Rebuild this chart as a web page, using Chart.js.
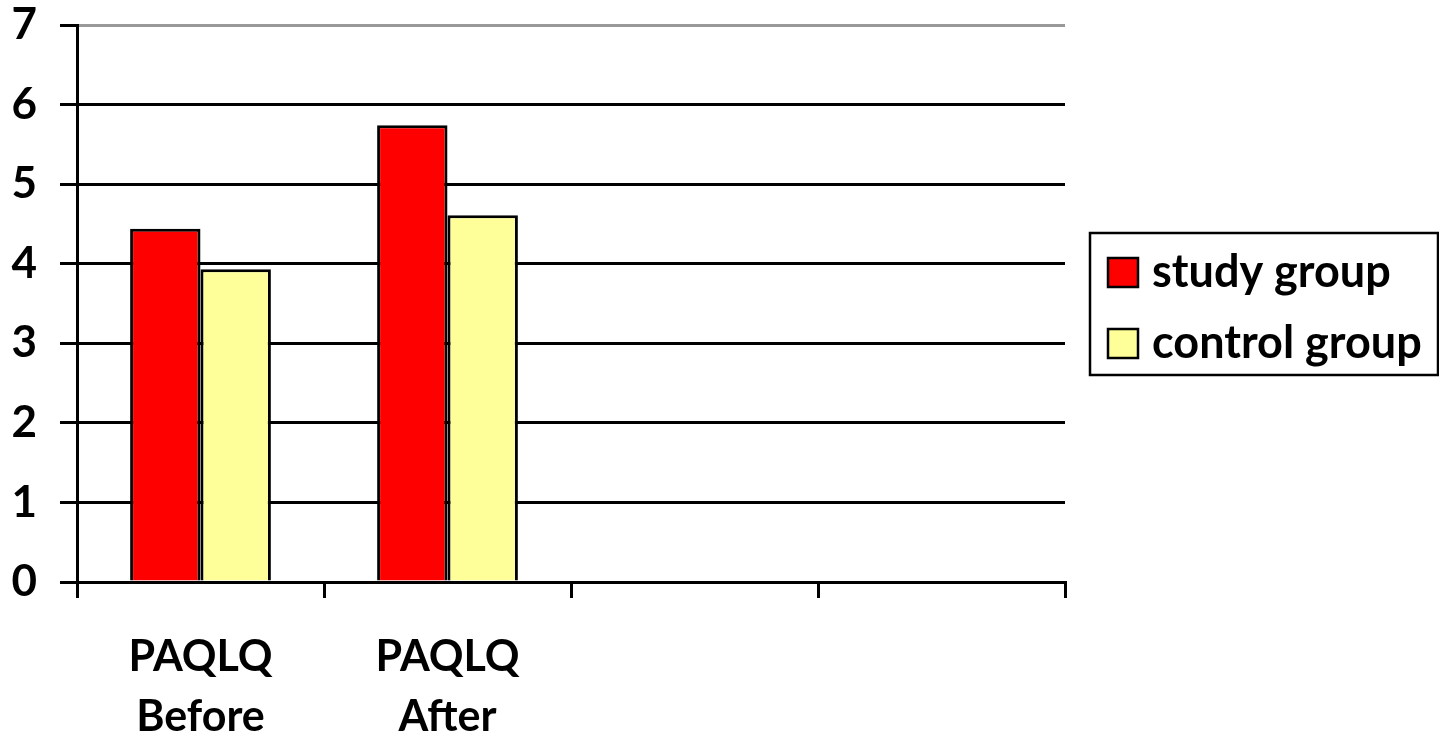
<!DOCTYPE html>
<html>
<head>
<meta charset="utf-8">
<script src="https://cdn.jsdelivr.net/npm/chart.js@4.4.1/dist/chart.umd.min.js"></script>
<style>
  html, body { margin: 0; padding: 0; background: #fff; }
  #wrap { width: 1439px; height: 738px; }
</style>
</head>
<body>
<div id="wrap"><canvas id="chart" width="1439" height="738"></canvas></div>
<script>
const categories = [['PAQLQ', 'Before'], ['PAQLQ', 'After'], '', '']
const studyGroup = [4.44, 5.74, null, null]
const controlGroup = [3.93, 4.61, null, null]
const yTicks = [0, 1, 2, 3, 4, 5, 6, 7]

const FONT = 'Lato, "Open Sans", sans-serif'

// boxed legend on the right, drawn from the dataset labels/colours
const boxedLegend = {
  id: 'boxedLegend',
  afterDraw(chart) {
    const ctx = chart.ctx
    const x0 = 1090, y0 = 233, w = 348, h = 142
    ctx.save()
    ctx.lineWidth = 2.5
    ctx.strokeStyle = '#000'
    ctx.strokeRect(x0, y0, w, h)
    ctx.font = 'bold 45px ' + FONT
    ctx.textBaseline = 'middle'
    chart.data.datasets.forEach((ds, i) => {
      const cy = 272 + i * 71
      ctx.fillStyle = ds.backgroundColor
      ctx.fillRect(1108, cy - 14, 30, 29)
      ctx.strokeRect(1108, cy - 14, 30, 29)
      ctx.fillStyle = '#000'
      ctx.fillText(ds.label, 1152, cy)
    })
    ctx.restore()
  }
}

new Chart(document.getElementById('chart'), {
  type: 'bar',
  data: {
    labels: categories,
    datasets: [
      {
        label: 'study group',
        data: studyGroup,
        backgroundColor: '#ff0000',
        borderColor: '#000',
        borderWidth: 3,
        borderSkipped: 'bottom'
      },
      {
        label: 'control group',
        data: controlGroup,
        backgroundColor: '#ffff99',
        borderColor: '#000',
        borderWidth: 3,
        borderSkipped: 'bottom'
      }
    ]
  },
  options: {
    responsive: false,
    animation: false,
    layout: { padding: { top: 25, right: 374, left: 0, bottom: 0 } },
    plugins: {
      legend: { display: false },
      tooltip: { enabled: false }
    },
    datasets: {
      bar: { barPercentage: 1, categoryPercentage: 0.57 }
    },
    scales: {
      x: {
        afterFit: (scale) => { scale.height = 156 },
        grid: {
          offset: true,
          drawOnChartArea: true,
          // only the right-hand frame edge shows inside the plot
          color: (c) => c.index === categories.length ? '#999' : 'rgba(0,0,0,0)',
          lineWidth: 3,
          tickColor: '#000',
          tickLength: 16
        },
        border: { display: true, color: '#000', width: 3 },
        ticks: {
          color: '#000',
          padding: 29,
          maxRotation: 0,
          font: { family: FONT, size: 43, weight: 'bold', lineHeight: 60 / 43 }
        }
      },
      y: {
        min: 0,
        max: 7,
        afterFit: (scale) => {
          scale.width = 77
          scale.paddingTop = 0
          scale.paddingBottom = 0
        },
        afterBuildTicks: (scale) => { scale.ticks = yTicks.map(v => ({ value: v })) },
        grid: {
          color: (c) => c.tick && c.tick.value === 7 ? '#999' : '#000',
          lineWidth: 3,
          tickColor: '#000',
          tickLength: 17
        },
        border: { display: true, color: '#000', width: 3 },
        ticks: {
          color: '#000',
          padding: 23,
          font: { family: FONT, size: 44, weight: 'bold' }
        }
      }
    }
  },
  plugins: [boxedLegend]
})
</script>
</body>
</html>
